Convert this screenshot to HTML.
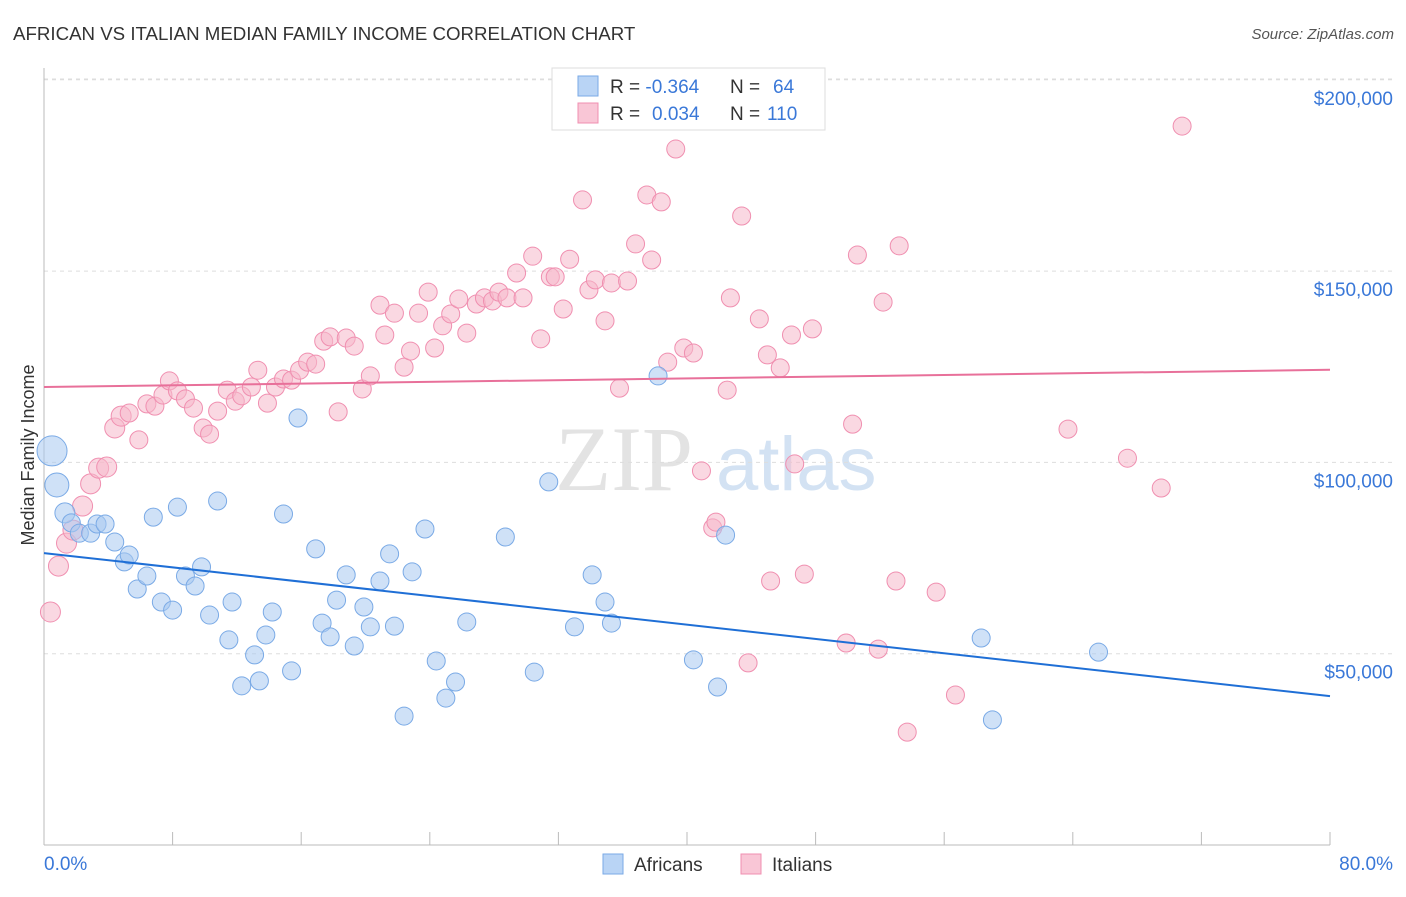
<!DOCTYPE html>
<html><head><meta charset="utf-8"><style>
body{margin:0;background:#fff;width:1406px;height:892px;overflow:hidden;font-family:"Liberation Sans",sans-serif}
</style></head><body>
<svg id="chart" width="1406" height="892" xmlns="http://www.w3.org/2000/svg" font-family="Liberation Sans, sans-serif">
<text x="13" y="40" font-size="18.7" fill="#333">AFRICAN VS ITALIAN MEDIAN FAMILY INCOME CORRELATION CHART</text>
<text x="1394" y="39" font-size="15" fill="#555" font-style="italic" text-anchor="end">Source: ZipAtlas.com</text>
<g>
<text x="555" y="490" font-size="92" font-family="Liberation Serif, serif" fill="#e3e3e3">ZIP</text>
<text x="716" y="490" font-size="76" fill="#d3e2f3">atlas</text>
</g>
<g id="grid"></g>
<g id="axes"></g>
<g id="marks"></g>
<g>
<rect x="552" y="68" width="273" height="62" fill="#fff" stroke="#ddd"/>
<rect x="578" y="76" width="20" height="20" fill="#b9d4f5" stroke="#7aaae6"/>
<rect x="578" y="103" width="20" height="20" fill="#f9c6d6" stroke="#f08fb0"/>
<text x="610" y="93" font-size="19" fill="#333">R = <tspan fill="#3a78d8">-0.364</tspan><tspan x="730">N = </tspan><tspan fill="#3a78d8" x="773">64</tspan></text>
<text x="610" y="120" font-size="19" fill="#333">R = <tspan fill="#3a78d8" x="652">0.034</tspan><tspan x="730">N = </tspan><tspan fill="#3a78d8" x="767">110</tspan></text>
</g>
<text transform="translate(34,455) rotate(-90)" font-size="18" fill="#333" text-anchor="middle">Median Family Income</text>
<g>
<rect x="603" y="854" width="20" height="20" fill="#b9d4f5" stroke="#7aaae6"/>
<text x="634" y="871" font-size="19" fill="#333">Africans</text>
<rect x="741" y="854" width="20" height="20" fill="#f9c6d6" stroke="#f08fb0"/>
<text x="772" y="871" font-size="19" fill="#333">Italians</text>
</g>
</svg>
<script>
const yTicks=[50000,100000,150000,200000];
const yTickLabels=["$50,000","$100,000","$150,000","$200,000"];
const xTickVals=[0,8,16,24,32,40,48,56,64,72,80];
const africanX=[0.5,0.8,1.3,1.7,2.2,2.9,3.3,3.8,4.4,5.0,5.3,5.8,6.4,6.8,7.3,8.0,8.3,8.8,9.4,9.8,10.3,10.8,11.5,11.7,12.3,13.1,13.4,13.8,14.2,14.9,15.4,15.8,16.9,17.3,17.8,18.2,18.8,19.3,19.9,20.3,20.9,21.5,21.8,22.4,22.9,23.7,24.4,25.0,25.6,26.3,28.7,30.5,31.4,33.0,34.1,34.9,35.3,38.2,40.4,41.9,42.4,58.3,59.0,65.6];
const africanY=[103.0,94.1,86.8,84.2,81.5,81.5,83.9,83.9,79.2,74.0,75.8,66.9,70.3,85.7,63.5,61.4,88.3,70.3,67.7,72.7,60.1,89.9,53.6,63.5,41.6,49.7,42.9,54.9,60.9,86.5,45.5,111.6,77.4,58.0,54.4,64.0,70.6,52.0,62.2,57.0,69.0,76.1,57.2,33.7,71.4,82.6,48.1,38.4,42.6,58.3,80.5,45.2,94.9,57.0,70.6,63.5,58.0,122.6,48.4,41.3,81.0,54.1,32.7,50.4];
const italianX=[0.4,0.9,1.4,1.8,2.4,2.9,3.4,3.9,4.4,4.8,5.3,5.9,6.4,6.9,7.4,7.8,8.3,8.8,9.3,9.9,10.3,10.8,11.4,11.9,12.3,12.9,13.3,13.9,14.4,14.9,15.4,15.9,16.4,16.9,17.4,17.8,18.3,18.8,19.3,19.8,20.3,20.9,21.2,21.8,22.4,22.8,23.3,23.9,24.3,24.8,25.3,25.8,26.3,26.9,27.4,27.9,28.3,28.8,29.4,29.8,30.4,30.9,31.5,31.8,32.3,32.7,33.5,33.9,34.3,34.9,35.3,35.8,36.3,36.8,37.5,37.8,38.4,38.8,39.3,39.8,40.4,40.9,41.6,41.8,42.5,42.7,43.4,43.8,44.5,45.0,45.2,45.8,46.5,46.7,47.3,47.8,49.9,50.3,50.6,51.9,52.2,53.0,53.2,53.7,55.5,56.7,63.7,67.4,69.5,70.8];
const italianY=[60.9,72.9,78.9,82.3,88.6,94.4,98.5,98.8,109.0,112.1,112.9,105.9,115.3,114.7,117.6,121.3,118.7,116.6,114.2,109.0,107.4,113.4,118.9,116.0,117.4,119.7,124.1,115.5,119.7,121.8,121.5,124.1,126.2,125.7,131.7,132.8,113.2,132.5,130.4,119.2,122.6,141.1,133.3,139.0,124.9,129.1,139.0,144.5,129.9,135.7,138.8,142.7,133.8,141.4,143.0,142.2,144.5,143.0,149.5,143.0,153.9,132.3,148.5,148.5,140.1,153.1,168.6,145.1,147.7,137.0,146.9,119.4,147.4,157.1,169.9,152.9,168.1,126.2,181.9,129.9,128.6,97.8,82.9,84.4,118.9,143.0,164.4,47.6,137.5,128.1,69.0,124.7,133.3,99.6,70.8,134.9,52.8,110.0,154.2,51.2,141.9,69.0,156.6,29.5,66.1,39.2,108.7,101.1,93.3,187.9];
const africanTrend=[76.3,38.9];
const italianTrend=[119.7,124.2];
const NS="http://www.w3.org/2000/svg";
const sx=v=>44+v/80*1286;
const sy=k=>845-k/50*191.3;
function mk(tag,attrs,parent){const e=document.createElementNS(NS,tag);for(const k in attrs)e.setAttribute(k,attrs[k]);parent.appendChild(e);return e;}
const gridG=document.getElementById('grid'),axesG=document.getElementById('axes'),marksG=document.getElementById('marks');
yTicks.forEach((t,i)=>{
 const l=mk('line',{x1:44,x2:1394,y1:sy(t/1000),y2:sy(t/1000),stroke:'#ddd','stroke-dasharray':'4,4'},gridG);
 
 
 const tx=mk('text',{x:1393,y:sy(t/1000)+25,'font-size':19,fill:'#3a78d8','text-anchor':'end'},axesG);
 tx.textContent=yTickLabels[i];
 
 
});
const topGrid=mk('line',{x1:44,x2:1394,y1:79,y2:79,stroke:'#ddd','stroke-dasharray':'4,4'},gridG);


const ya=mk('line',{x1:44,x2:44,y1:68,y2:845,stroke:'#bbb'},axesG);


const xa=mk('line',{x1:44,x2:1330,y1:845,y2:845,stroke:'#bbb'},axesG);


xTickVals.forEach(v=>{
 const t=mk('line',{x1:sx(v),x2:sx(v),y1:832,y2:845,stroke:'#bbb'},axesG);
 
 
});
const xl0=mk('text',{x:44,y:870,'font-size':19,fill:'#3a78d8'},axesG);xl0.textContent='0.0%';


const xl1=mk('text',{x:1393,y:870,'font-size':19,fill:'#3a78d8','text-anchor':'end'},axesG);xl1.textContent='80.0%';


function pts(X,Y,fill,stroke,name){
 X.forEach((x,i)=>{
  let r=9;
  if(name==='african-point'&&i===0)r=15; else if(name==='african-point'&&i===1)r=12; else if(name==='african-point'&&i===2)r=10;
  else if(name==='italian-point'&&x<5)r=10;
  const c=mk('circle',{cx:sx(x),cy:sy(Y[i]),r:r,fill:fill,'fill-opacity':0.55,stroke:stroke,'stroke-width':1},marksG);
  
  
 });
}
pts(italianX,italianY,'#f6b8cb','#f08fb0','italian-point');
pts(africanX,africanY,'#a8c8f0','#7aaae6','african-point');
const bl=mk('line',{x1:sx(0),y1:sy(africanTrend[0]),x2:sx(80),y2:sy(africanTrend[1]),stroke:'#1f6fd6','stroke-width':2},marksG);


const pl=mk('line',{x1:sx(0),y1:sy(italianTrend[0]),x2:sx(80),y2:sy(italianTrend[1]),stroke:'#e8709a','stroke-width':2},marksG);


</script>
</body></html>
